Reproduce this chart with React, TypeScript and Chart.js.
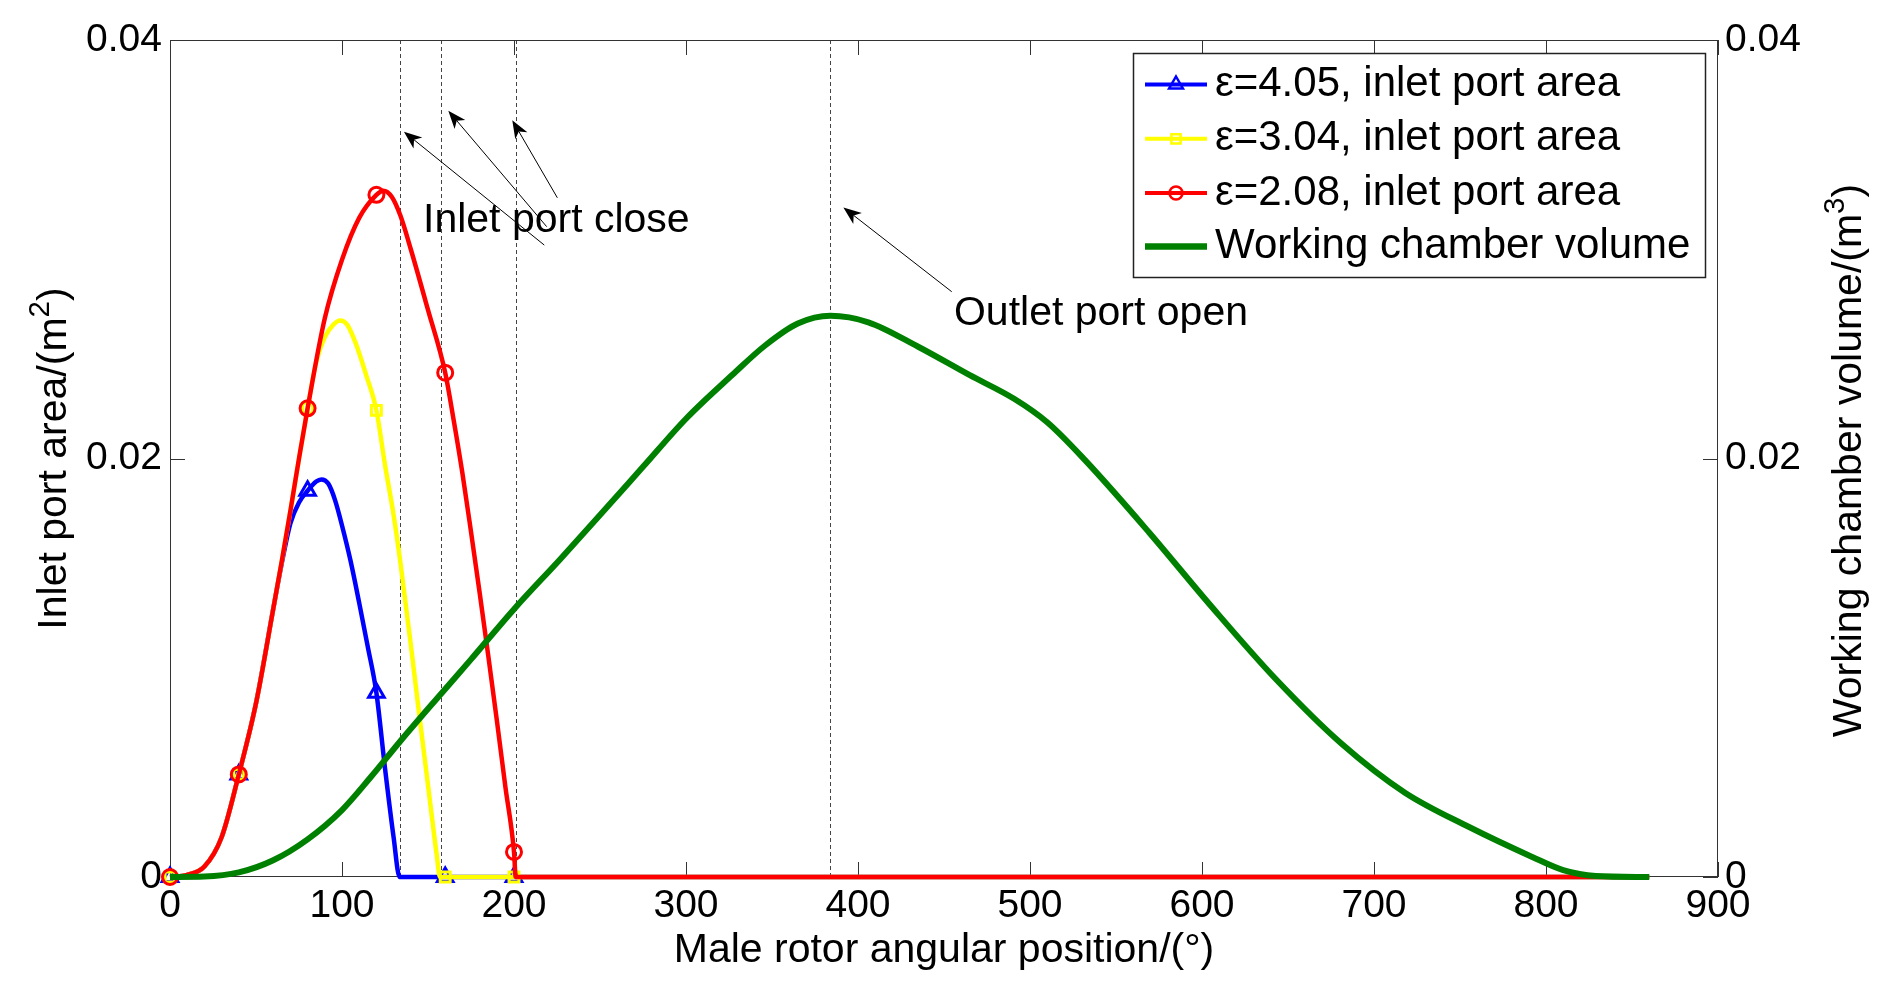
import React, { useEffect, useRef } from 'react';
import { Chart, registerables } from 'chart.js';

Chart.register(...registerables);

// ---------- data ----------
const xTickLabels = ['0', '100', '200', '300', '400', '500', '600', '700', '800', '900'];
const yTickLabels = ['0', '0.02', '0.04'];
const markerAngles = [0, 40, 80, 120, 160, 200];

const blueAngles = [0, 10, 20, 30, 40, 50, 60, 65, 70, 75, 80, 85, 88, 92, 96, 100, 105, 110, 115, 120, 125, 130, 133.5, 160, 200, 860];
const blueArea = [0, 0.0001, 0.0005, 0.0019, 0.0049, 0.0083, 0.0128, 0.015, 0.0169, 0.0179, 0.01846, 0.0189, 0.019, 0.0188, 0.018, 0.0168, 0.0151, 0.0131, 0.011, 0.0088, 0.0052, 0.0019, 0, 0, 0, 0];

const yellowAngles = [0, 10, 20, 30, 40, 50, 60, 65, 70, 75, 80, 85, 90, 95, 99, 103, 108, 114, 120, 125, 130, 134, 140, 145, 150, 155, 157, 160, 200, 860];
const yellowArea = [0, 0.0001, 0.0005, 0.0019, 0.0049, 0.0083, 0.0128, 0.0151, 0.0175, 0.02, 0.0224, 0.0246, 0.0258, 0.0264, 0.0266, 0.0264, 0.0255, 0.024, 0.0223, 0.0197, 0.0173, 0.015, 0.0111, 0.0077, 0.0044, 0.0011, 0, 0, 0, 0];

const redAngles = [0, 10, 20, 30, 40, 50, 60, 65, 70, 75, 80, 90, 100, 110, 120, 124, 129, 134, 140, 150, 160, 165, 170, 175, 180, 185, 190, 195, 200, 201, 860];
const redArea = [0, 0.0001, 0.0005, 0.0019, 0.0049, 0.0083, 0.0128, 0.0151, 0.0175, 0.02, 0.0224, 0.0267, 0.0295, 0.0315, 0.0326, 0.0328, 0.0325, 0.0316, 0.03, 0.0271, 0.0241, 0.0218, 0.0193, 0.0165, 0.0136, 0.0106, 0.0075, 0.0043, 0.0012, 0, 0];

const volumeAngles = [0, 20, 40, 60, 80, 100, 117, 134, 157, 175, 200, 227, 250, 275, 300, 327, 346, 365, 384, 406, 435, 465, 491, 510, 532, 569, 606, 643, 681, 718, 755, 792, 810, 829, 860];
const chamberVolume = [0, 0.00002, 0.00022, 0.0008, 0.0018, 0.0032, 0.0048, 0.0065, 0.0087, 0.0104, 0.0128, 0.0152, 0.0173, 0.0196, 0.0219, 0.024, 0.0254, 0.02645, 0.02682, 0.02651, 0.02534, 0.02398, 0.02284, 0.02173, 0.01992, 0.01649, 0.01288, 0.00945, 0.00638, 0.00403, 0.0024, 0.00096, 0.00033, 0.00005, 0];

const seriesLabels = ['ε=4.05, inlet port area', 'ε=3.04, inlet port area', 'ε=2.08, inlet port area', 'Working chamber volume'];

// annotation anchors (data coordinates: angle, value)
const closeAngles = [134, 157.5, 201];
const outletAngle = 384;
const inletArrowTips = [[136.0, 0.03562], [161.8, 0.03662], [199.0, 0.03617]];
const inletArrowTails = [[217.6, 0.0302], [219.0, 0.03108], [225.2, 0.03246]];
const outletArrowTip = [391.5, 0.032];
const outletArrowTail = [454.5, 0.02797];
const inletLabel = { text: 'Inlet port close', at: [147.1, 0.03135] };
const outletLabel = { text: 'Outlet port open', at: [455.8, 0.0269] };

const FONT = "'Liberation Sans', Arial, Helvetica, sans-serif";

function toPoints(xs: number[], ys: number[]) {
  return xs.map((x, i) => ({ x, y: ys[i] }));
}
function markerRadii(xs: number[], r: number) {
  return xs.map((x) => (markerAngles.includes(x) ? r : 0));
}

function drawArrow(ctx: CanvasRenderingContext2D, tx: number, ty: number, hx: number, hy: number) {
  const ang = Math.atan2(hy - ty, hx - tx);
  const L = 18, W = 7, back = 5;
  const c = Math.cos(ang), s = Math.sin(ang);
  const nx = -s, ny = c;
  const mx = hx - c * (L - back), my = hy - s * (L - back);
  ctx.beginPath();
  ctx.moveTo(tx, ty);
  ctx.lineTo(mx, my);
  ctx.stroke();
  const bx = hx - c * L, by = hy - s * L;
  ctx.beginPath();
  ctx.moveTo(hx, hy);
  ctx.lineTo(bx + nx * W, by + ny * W);
  ctx.lineTo(mx, my);
  ctx.lineTo(bx - nx * W, by - ny * W);
  ctx.closePath();
  ctx.fill();
}

function drawMarker(ctx: CanvasRenderingContext2D, style: string, x: number, y: number, r: number) {
  ctx.beginPath();
  if (style === 'triangle') {
    ctx.moveTo(x, y - r);
    ctx.lineTo(x + r * 0.866, y + r * 0.5);
    ctx.lineTo(x - r * 0.866, y + r * 0.5);
    ctx.closePath();
  } else if (style === 'rect') {
    const h = r * 0.707;
    ctx.rect(x - h, y - h, 2 * h, 2 * h);
  } else if (style === 'circle') {
    ctx.arc(x, y, r, 0, Math.PI * 2);
  }
  ctx.stroke();
}

// title with optional superscript, centred on (cx, cy) = cap centre
function drawTitle(
  ctx: CanvasRenderingContext2D,
  base: string,
  sup: string,
  tail: string,
  cx: number,
  cy: number,
  rot: number,
  size: number
) {
  ctx.save();
  ctx.translate(cx, cy);
  ctx.rotate(rot);
  ctx.fillStyle = '#000';
  ctx.textBaseline = 'alphabetic';
  ctx.textAlign = 'left';
  const supSize = size * 0.72;
  ctx.font = `${size}px ${FONT}`;
  const wBase = ctx.measureText(base).width;
  const wTail = ctx.measureText(tail).width;
  ctx.font = `${supSize}px ${FONT}`;
  const wSup = sup ? ctx.measureText(sup).width : 0;
  const total = wBase + wSup + wTail;
  let x = -total / 2;
  const baseY = size * 0.36;
  ctx.font = `${size}px ${FONT}`;
  ctx.fillText(base, x, baseY);
  x += wBase;
  if (sup) {
    ctx.font = `${supSize}px ${FONT}`;
    ctx.fillText(sup, x, baseY - size * 0.42);
    x += wSup;
  }
  ctx.font = `${size}px ${FONT}`;
  ctx.fillText(tail, x, baseY);
  ctx.restore();
}

const decorPlugin = {
  id: 'decor',
  beforeDatasetsDraw(chart: any) {
    const { ctx, chartArea } = chart;
    const { left, right, top, bottom } = chartArea;
    const x = chart.scales.x;
    const y = chart.scales.y;
    ctx.save();
    // dashed vertical lines
    ctx.strokeStyle = '#444';
    ctx.lineWidth = 1;
    ctx.setLineDash([4, 3]);
    [...closeAngles, outletAngle].forEach((a) => {
      const px = Math.round(x.getPixelForValue(a)) + 0.5;
      ctx.beginPath();
      ctx.moveTo(px, top);
      ctx.lineTo(px, bottom);
      ctx.stroke();
    });
    ctx.setLineDash([]);
    // frame
    ctx.strokeStyle = '#333';
    ctx.lineWidth = 1;
    ctx.strokeRect(left + 0.5, top + 0.5, right - left - 1, bottom - top - 1);
    // inner ticks
    const tl = 15;
    x.ticks.forEach((t: any) => {
      const px = Math.round(x.getPixelForValue(t.value)) + 0.5;
      ctx.beginPath();
      ctx.moveTo(px, bottom);
      ctx.lineTo(px, bottom - tl);
      ctx.moveTo(px, top);
      ctx.lineTo(px, top + tl);
      ctx.stroke();
    });
    y.ticks.forEach((t: any) => {
      const py = Math.round(y.getPixelForValue(t.value)) + 0.5;
      ctx.beginPath();
      ctx.moveTo(left, py);
      ctx.lineTo(left + tl, py);
      ctx.moveTo(right, py);
      ctx.lineTo(right - tl, py);
      ctx.stroke();
    });
    ctx.restore();
  },
  afterDatasetsDraw(chart: any) {
    const { ctx, chartArea } = chart;
    const x = chart.scales.x;
    const y = chart.scales.y;
    const P = (p: number[]) => [x.getPixelForValue(p[0]), y.getPixelForValue(p[1])];
    ctx.save();
    // annotation texts
    ctx.fillStyle = '#000';
    ctx.font = `41px ${FONT}`;
    ctx.textAlign = 'left';
    ctx.textBaseline = 'middle';
    const il = P(inletLabel.at);
    ctx.fillText(inletLabel.text, il[0], il[1]);
    const ol = P(outletLabel.at);
    ctx.fillText(outletLabel.text, ol[0], ol[1]);
    // arrows
    ctx.strokeStyle = '#000';
    ctx.fillStyle = '#000';
    ctx.lineWidth = 1;
    inletArrowTips.forEach((tip, i) => {
      const h = P(tip);
      const t = P(inletArrowTails[i]);
      drawArrow(ctx, t[0], t[1], h[0], h[1]);
    });
    const oh = P(outletArrowTip);
    const ot = P(outletArrowTail);
    drawArrow(ctx, ot[0], ot[1], oh[0], oh[1]);

    // axis titles
    const cxMid = (chartArea.left + chartArea.right) / 2;
    const cyMid = (chartArea.top + chartArea.bottom) / 2;
    drawTitle(ctx, 'Male rotor angular position/(°)', '', '', cxMid, 947, 0, 41);
    drawTitle(ctx, 'Inlet port area/(m', '2', ')', 51, cyMid, -Math.PI / 2, 41);
    drawTitle(ctx, 'Working chamber volume/(m', '3', ')', 1846, cyMid + 2, -Math.PI / 2, 41);

    // legend
    const bx = 1133, by = 53, bw = 572, bh = 224;
    ctx.fillStyle = '#fff';
    ctx.fillRect(bx, by, bw, bh);
    ctx.strokeStyle = '#222';
    ctx.lineWidth = 1.5;
    ctx.strokeRect(bx + 0.5, by + 0.5, bw, bh);
    const rows = [84.5, 138.8, 193, 246.5];
    chart.data.datasets.forEach((ds: any, i: number) => {
      const ry = rows[i];
      ctx.strokeStyle = ds.borderColor;
      ctx.lineWidth = ds.legendLineWidth;
      ctx.beginPath();
      ctx.moveTo(1145, ry);
      ctx.lineTo(1207, ry);
      ctx.stroke();
      if (ds.legendMarker) {
        ctx.lineWidth = 2.5;
        drawMarker(ctx, ds.pointStyle, 1176, ry, ds.legendMarker);
      }
      ctx.fillStyle = '#000';
      ctx.font = `42px ${FONT}`;
      ctx.textAlign = 'left';
      ctx.textBaseline = 'middle';
      ctx.fillText(ds.label, 1215, ry);
    });
    ctx.restore();
  },
};

export default function App() {
  const ref = useRef<HTMLCanvasElement | null>(null);

  useEffect(() => {
    document.body.style.margin = '0';
    document.body.style.overflow = 'hidden';
    const canvas = ref.current;
    if (!canvas) return;
    const common = {
      fill: false,
      cubicInterpolationMode: 'monotone',
      clip: false,
      pointBackgroundColor: 'rgba(0,0,0,0)',
      pointBorderWidth: 3,
      pointHoverRadius: 0,
    };
    const chart = new Chart(canvas, {
      type: 'line',
      data: {
        datasets: [
          {
            ...common,
            label: seriesLabels[0],
            data: toPoints(blueAngles, blueArea),
            borderColor: '#0000ff',
            pointBorderColor: '#0000ff',
            borderWidth: 4.5,
            pointStyle: 'triangle',
            pointRadius: markerRadii(blueAngles, 9),
            yAxisID: 'y',
            order: 3,
            legendLineWidth: 4,
            legendMarker: 8,
          } as any,
          {
            ...common,
            label: seriesLabels[1],
            data: toPoints(yellowAngles, yellowArea),
            borderColor: '#ffff00',
            pointBorderColor: '#ffff00',
            borderWidth: 4.5,
            pointStyle: 'rect',
            pointRadius: markerRadii(yellowAngles, 7),
            yAxisID: 'y',
            order: 2,
            legendLineWidth: 4,
            legendMarker: 6.5,
          } as any,
          {
            ...common,
            label: seriesLabels[2],
            data: toPoints(redAngles, redArea),
            borderColor: '#ff0000',
            pointBorderColor: '#ff0000',
            borderWidth: 4.5,
            pointStyle: 'circle',
            pointRadius: markerRadii(redAngles, 7.5),
            yAxisID: 'y',
            order: 1,
            legendLineWidth: 4,
            legendMarker: 6.5,
          } as any,
          {
            ...common,
            label: seriesLabels[3],
            data: toPoints(volumeAngles, chamberVolume),
            borderColor: '#008000',
            borderWidth: 6,
            pointRadius: 0,
            yAxisID: 'y2',
            order: 0,
            legendLineWidth: 6.5,
            legendMarker: 0,
          } as any,
        ],
      },
      options: {
        responsive: false,
        maintainAspectRatio: false,
        animation: false,
        devicePixelRatio: 1,
        events: [],
        layout: { padding: { top: 40, left: 0, right: 0, bottom: 0 } },
        plugins: {
          legend: { display: false },
          tooltip: { enabled: false },
        },
        scales: {
          x: {
            type: 'linear',
            position: 'bottom',
            min: 0,
            max: 900,
            grid: { display: false, drawTicks: false },
            border: { display: false },
            ticks: {
              stepSize: 100,
              autoSkip: false,
              maxRotation: 0,
              padding: 6,
              color: '#000',
              font: { family: FONT, size: 39 },
              callback: (_v: any, i: number) => xTickLabels[i],
            },
            afterFit: (s: any) => {
              s.height = 116;
            },
          },
          y: {
            type: 'linear',
            position: 'left',
            min: 0,
            max: 0.04,
            grid: { display: false, drawTicks: false },
            border: { display: false },
            ticks: {
              stepSize: 0.02,
              padding: 8,
              color: '#000',
              font: { family: FONT, size: 39 },
              callback: (_v: any, i: number) => yTickLabels[i],
            },
            afterFit: (s: any) => {
              s.width = 170;
            },
          },
          y2: {
            type: 'linear',
            position: 'right',
            min: 0,
            max: 0.04,
            grid: { display: false, drawTicks: false },
            border: { display: false },
            ticks: {
              stepSize: 0.02,
              padding: 7,
              color: '#000',
              font: { family: FONT, size: 39 },
              callback: (_v: any, i: number) => yTickLabels[i],
            },
            afterFit: (s: any) => {
              s.width = 174;
            },
          },
        },
      } as any,
      plugins: [decorPlugin],
    });
    return () => chart.destroy();
  }, []);

  return (
    <div style={{ width: 1892, height: 993 }}>
      <canvas ref={ref} width={1892} height={993} style={{ display: 'block', width: 1892, height: 993 }} />
    </div>
  );
}
